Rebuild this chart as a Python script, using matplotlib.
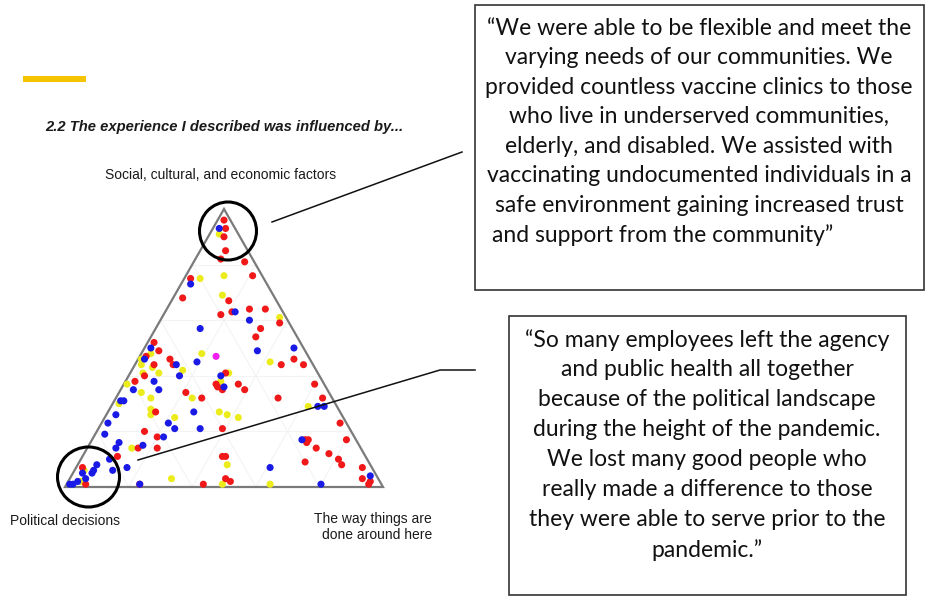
import numpy as np
import matplotlib.pyplot as plt
from matplotlib.patches import Polygon, Rectangle, Ellipse

# ternary shares in percent: social (top corner) and way (right corner)
# political = 100 - social - way
red_social = [96, 93, 90, 85, 82, 75, 68, 67, 63, 62, 52, 81, 76, 64, 64, 59, 57, 54,
              46, 44, 44, 49, 47, 46, 44, 44, 40, 38, 34, 32, 27, 20, 21, 18, 14, 14,
              11, 7, 1, 1, 1, 11, 11, 3, 2, 41, 37, 36, 35, 37, 35, 32, 37, 32, 23,
              17, 17, 17, 16, 14, 12, 9, 10, 8, 7, 3, 2, 1]
red_way = [2, 4, 5, 8, 8, 2, 3, 18, 21, 18, 2, 16, 21, 26, 31, 38, 33, 33,
           49, 46, 53, 5, 2, 10, 12, 6, 5, 3, 21, 27, 15, 15, 39, 20, 22, 16,
           11, 2, 6, 23, 43, 44, 45, 49, 51, 30, 29, 30, 32, 36, 39, 51, 60, 65, 75,
           80, 67, 68, 68, 72, 77, 71, 81, 83, 90, 92, 95, 95]

blue_social = [93, 73, 63, 57, 60, 49, 50, 50, 46, 44, 45, 40, 38, 35, 35, 31, 31, 26,
               27, 23, 21, 23, 19, 21, 18, 15, 16, 14, 10, 7, 6, 8, 6, 5, 5, 3, 2, 1,
               1, 1, 40, 36, 7, 29, 29, 17, 4, 1]
blue_way = [2, 3, 22, 14, 28, 36, 47, 2, 2, 13, 19, 16, 9, 12, 4, 2, 3, 3,
            27, 21, 24, 2, 3, 32, 22, 17, 9, 9, 9, 16, 12, 6, 6, 6, 3, 5, 3, 2,
            1, 23, 29, 32, 61, 65, 67, 66, 94, 80]

yellow_social = [91, 75, 76, 69, 61, 45, 48, 46, 44, 43, 48, 42, 41, 41, 37, 34, 32, 32,
                 30, 28, 26, 25, 27, 26, 25, 14, 6, 2, 3, 8, 1, 1, 29, 41, 38]
yellow_way = [3, 5, 12, 15, 37, 42, 3, 1, 2, 6, 19, 16, 4, 9, 1, 7, 11, 24,
              2, 13, 14, 22, 35, 38, 42, 14, 3, 4, 32, 47, 49, 64, 62, 31, 30]

magenta_social = [47]
magenta_way = [24]

top_label = "Social, cultural, and economic factors"
left_label = "Political decisions"
right_label = "The way things are\ndone around here"
title = "2.2 The experience I described was influenced by..."

quote1 = ["\u201cWe were able to be flexible and meet the",
          "varying needs of our communities. We",
          "provided countless vaccine clinics to those",
          "who live in underserved communities,",
          "elderly, and disabled. We assisted with",
          "vaccinating undocumented individuals in a",
          "safe environment gaining increased trust",
          "and support from the community\u201d"]
quote2 = ["\u201cSo many employees left the agency",
          "and public health all together",
          "because of the political landscape",
          "during the height of the pandemic.",
          "We lost many good people who",
          "really made a difference to those",
          "they were able to serve prior to the",
          "pandemic.\u201d"]

H = np.sqrt(3) / 2


def to_xy(social, way):
    a = np.array(social) / 100.0
    c = np.array(way) / 100.0
    return c + a / 2, a * H


W, HT = 935, 609
fig = plt.figure(figsize=(W / 100, HT / 100), dpi=100)

# ternary panel
ax = fig.add_axes([65 / W, (HT - 487) / HT, 318 / W, 278 / HT])
ax.set_xlim(0, 1)
ax.set_ylim(0, H)
ax.axis("off")

for t in [0.2, 0.4, 0.6, 0.8]:
    ax.plot([t / 2, 1 - t / 2], [t * H, t * H], color="#f3f3f3", lw=0.8, zorder=1)
    ax.plot([t, t + (1 - t) / 2], [0, (1 - t) * H], color="#f3f3f3", lw=0.8, zorder=1)
    ax.plot([1 - t, (1 - t) / 2], [0, (1 - t) * H], color="#f3f3f3", lw=0.8, zorder=1)

ax.add_patch(Polygon([(0, 0), (1, 0), (0.5, H)], closed=True, fill=False,
                     edgecolor="#7a7a7a", lw=1.6, zorder=2, clip_on=False))

for soc, way, col in [(yellow_social, yellow_way, "#ecec1c"),
                      (red_social, red_way, "#f01818"),
                      (blue_social, blue_way, "#1a1ae6"),
                      (magenta_social, magenta_way, "#f020f0")]:
    x, y = to_xy(soc, way)
    ax.scatter(x, y, s=26, color=col, edgecolors="none", zorder=3, clip_on=False)

# overlay in pixel space
ov = fig.add_axes([0, 0, 1, 1], facecolor="none")
ov.set_xlim(0, W)
ov.set_ylim(HT, 0)
ov.axis("off")

ov.add_patch(Rectangle((23, 76), 63, 6, color="#f5c400", lw=0))
ov.text(45, 127, title, fontsize=10.6, fontweight="bold", fontstyle="italic",
        family="Liberation Sans", color="#1a1a1a", ha="left", va="center")

lab = dict(fontsize=10, family="Liberation Sans", color="#1a1a1a")
ov.text(220.5, 175, top_label, ha="center", va="center", **lab)
ov.text(10, 521, left_label, ha="left", va="center", **lab)
ov.text(432, 512, right_label, ha="right", va="top", **lab)

ov.add_patch(Ellipse((228, 231), 57, 58, fill=False, edgecolor="black", lw=2.2))
ov.add_patch(Ellipse((88.5, 477), 62, 60, fill=False, edgecolor="black", lw=2.2))
ov.plot([272, 462], [222, 152], color="#111111", lw=1.1)
ov.plot([138, 440, 475], [460, 370, 370], color="#111111", lw=1.1)

ov.add_patch(Rectangle((474.5, 4.5), 449.5, 285.5, fill=False, edgecolor="#333333", lw=1.2))
ov.add_patch(Rectangle((508.5, 316), 397, 279, fill=False, edgecolor="#333333", lw=1.2))

q = dict(fontsize=16.5, family="Lato", color="#111111", va="center")
for i, line in enumerate(quote1):
    if i == len(quote1) - 1:
        ov.text(491.7, 28.3 + i * 29.5, line, ha="left", **q)
    else:
        ov.text(699, 28.3 + i * 29.5, line, ha="center", **q)
for i, line in enumerate(quote2):
    ov.text(707, 340 + i * 30, line, ha="center", **q)

fig.savefig("out.png", dpi=100)
